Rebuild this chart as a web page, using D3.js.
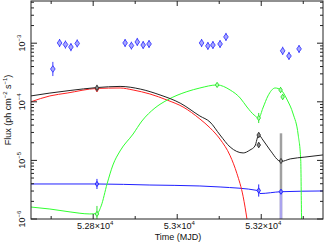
<!DOCTYPE html>
<html>
<head>
<meta charset="utf-8">
<script src="https://cdn.jsdelivr.net/npm/d3@7"></script>
<style>
  body { margin: 0; background: #fff; }
  svg { display: block; font-family: "Liberation Sans", Arial, sans-serif; }
</style>
</head>
<body>
<svg id="chart" width="325" height="242"></svg>
<script>
// ---- data ----
// measured points, upper band
const obsMjd  = [52704, 52720, 52734, 52747, 52762, 52876, 52891, 52905, 52919, 52933,
                 53058, 53073, 53085, 53102, 53116, 53251, 53266, 53290];
const obsFlux = [3.63e-4, 1.01e-3, 9.5e-4, 8.6e-4, 9.9e-4, 1.01e-3, 9.1e-4, 1.05e-3, 9.3e-4, 9.7e-4,
                 1.01e-3, 9.0e-4, 9.3e-4, 9.7e-4, 1.28e-3, 7.4e-4, 6.05e-4, 8.0e-4];
const obsLo   = [2.75e-4, 8.6e-4, 8.1e-4, 7.3e-4, 8.5e-4, 8.6e-4, 7.8e-4, 9.0e-4, 8.0e-4, 8.3e-4,
                 8.6e-4, 7.7e-4, 8.0e-4, 8.3e-4, 1.09e-3, 6.3e-4, 5.2e-4, 6.8e-4];
const obsHi   = [4.8e-4, 1.18e-3, 1.11e-3, 1.0e-3, 1.16e-3, 1.18e-3, 1.06e-3, 1.23e-3, 1.09e-3, 1.13e-3,
                 1.18e-3, 1.05e-3, 1.09e-3, 1.13e-3, 1.5e-3, 8.7e-4, 7.1e-4, 9.3e-4];

// model curves
const blackMjd  = [52652, 52697, 52745, 52809, 52864, 52912, 52959, 53007, 53054, 53078, 53102,
                   53126, 53157, 53173, 53185, 53194, 53204, 53221, 53247, 53269, 53304, 53347];
const blackFlux = [1.26e-4, 1.41e-4, 1.56e-4, 1.75e-4, 1.83e-4, 1.65e-4, 1.31e-4, 9.5e-5, 5.72e-5, 4.52e-5, 2.71e-5,
                   1.69e-5, 1.34e-5, 1.50e-5, 1.76e-5, 2.71e-5, 2.23e-5, 1.50e-5, 9.58e-6, 1.06e-5, 1.14e-5, 1.24e-5];

const redMjd  = [52652, 52697, 52738, 52809, 52864, 52895, 52935, 52976, 53014, 53054, 53078,
                 53102, 53126, 53142, 53157, 53166, 53172];
const redFlux = [1.0e-4, 1.26e-4, 1.41e-4, 1.69e-4, 1.72e-4, 1.59e-4, 1.36e-4, 1.07e-4, 8.15e-5, 5.09e-5, 3.6e-5,
                 2.3e-5, 1.2e-5, 6.0e-6, 2.4e-6, 1.0e-6, 5.0e-7];

const greenMjd  = [52652, 52697, 52745, 52792, 52809, 52819, 52833, 52847, 52864, 52895, 52916, 52947,
                   52976, 53023, 53054, 53095, 53126, 53150, 53166, 53183, 53194, 53204, 53216, 53233,
                   53247, 53262, 53276, 53288, 53294, 53296, 53298];
const greenFlux = [1.60e-6, 1.48e-6, 1.32e-6, 1.22e-6, 1.24e-6, 1.67e-6, 3.96e-6, 8.35e-6, 1.45e-5, 2.82e-5, 4.70e-5, 7.84e-5,
                   1.07e-4, 1.49e-4, 1.72e-4, 1.94e-4, 1.59e-4, 1.16e-4, 8.15e-5, 5.95e-5, 5.29e-5, 7.84e-5, 1.26e-4, 1.72e-4,
                   1.59e-4, 1.07e-4, 6.19e-5, 2.71e-5, 1.02e-5, 1.0e-6, 4.0e-7];

const blueMjd  = [52652, 52809, 52935, 53054, 53102, 53192, 53197, 53247, 53347];
const blueFlux = [3.96e-6, 3.96e-6, 3.80e-6, 3.66e-6, 3.52e-6, 3.06e-6, 2.72e-6, 2.92e-6, 3.01e-6];

// points on the model curves
const blackPtMjd  = [52809, 53194, 53194, 53247];
const blackPtFlux = [1.73e-4, 2.71e-5, 1.83e-5, 9.77e-6];
const blackPtLo   = [1.54e-4, 2.41e-5, 1.63e-5, 1e-7];
const blackPtHi   = [1.95e-4, 3.05e-5, 2.06e-5, 2.9e-5];

const redPtMjd  = [52809];
const redPtFlux = [1.65e-4];
const redPtLo   = [1.47e-4];
const redPtHi   = [1.86e-4];

const greenPtMjd  = [52809, 53095, 53194, 53246, 53251];
const greenPtFlux = [1.22e-6, 1.94e-4, 5.29e-5, 1.59e-4, 1.21e-4];
const greenPtLo   = [1e-7, 1.80e-4, 4.34e-5, 1.41e-4, 1.08e-4];
const greenPtHi   = [1.67e-6, 2.10e-4, 6.45e-5, 1.79e-4, 1.36e-4];

const bluePtMjd  = [52809, 53194, 53247];
const bluePtFlux = [3.96e-6, 3.06e-6, 2.92e-6];
const bluePtLo   = [3.25e-6, 2.41e-6, 1e-7];
const bluePtHi   = [4.83e-6, 3.89e-6, 3.16e-6];

const xMajorTicks  = [52800, 53000, 53200];
const xMajorLabels = ["5.28", "5.3", "5.32"];
const xMinorTicks  = [52700, 52900, 53100, 53300];
const yDecades     = [-6, -5, -4, -3];

// ---- layout ----
const svg = d3.select("#chart");
const plot = {left: 31, right: 323, top: 1, bottom: 219};

const x = d3.scaleLinear().domain([52652, 53347]).range([plot.left, plot.right]);
const y = d3.scaleLog().domain([1e-6, 5.25e-3]).range([plot.bottom, plot.top]);

svg.append("defs").append("clipPath").attr("id", "clip")
    .append("rect")
    .attr("x", plot.left).attr("y", plot.top)
    .attr("width", plot.right - plot.left).attr("height", plot.bottom - plot.top);

const g = svg.append("g").attr("clip-path", "url(#clip)");

// curves
function drawCurve(mjd, flux, color) {
    const pts = mjd.map((m, i) => [m, flux[i]]);
    g.append("path")
        .datum(pts)
        .attr("fill", "none")
        .attr("stroke", color)
        .attr("stroke-width", 1)
        .attr("d", d3.line().x(d => x(d[0])).y(d => y(d[1])).curve(d3.curveMonotoneX));
}

drawCurve(blueMjd, blueFlux, "#2020ff");
drawCurve(redMjd, redFlux, "#ff2020");
drawCurve(greenMjd, greenFlux, "#30ff30");
drawCurve(blackMjd, blackFlux, "#222");

// diamond markers with error bars
function drawPoints(mjd, flux, lo, hi, stroke, fill, barColor, barWidth, w, h) {
    mjd.forEach((m, i) => {
        g.append("line")
            .attr("x1", x(m)).attr("x2", x(m))
            .attr("y1", y(lo[i])).attr("y2", y(hi[i]))
            .attr("stroke", barColor)
            .attr("stroke-width", barWidth);
        const cx = x(m), cy = y(flux[i]);
        g.append("path")
            .attr("d", `M${cx},${cy - h}L${cx + w},${cy}L${cx},${cy + h}L${cx - w},${cy}Z`)
            .attr("fill", fill)
            .attr("stroke", stroke)
            .attr("stroke-width", 0.9);
    });
}

drawPoints(obsMjd, obsFlux, obsLo, obsHi, "#3a3aff", "#a8a8ff", "#3a3aff", 1, 2.3, 3.3);

// wide lower-limit bars at the last epoch
g.append("line")
    .attr("x1", x(blackPtMjd[3])).attr("x2", x(blackPtMjd[3]))
    .attr("y1", y(blackPtHi[3])).attr("y2", y(blackPtLo[3]))
    .attr("stroke", "#a0a0a0").attr("stroke-width", 2.5);
g.append("line")
    .attr("x1", x(bluePtMjd[2])).attr("x2", x(bluePtMjd[2]))
    .attr("y1", y(bluePtHi[2])).attr("y2", y(bluePtLo[2]))
    .attr("stroke", "#aaa3ee").attr("stroke-width", 2.5);

drawPoints(bluePtMjd, bluePtFlux, bluePtLo.map((v, i) => i === 2 ? bluePtFlux[i] : v),
    bluePtHi, "#2020ff", "#8080ff", "#2020ff", 1, 1.8, 2.6);
drawPoints(greenPtMjd, greenPtFlux, greenPtLo, greenPtHi, "#30e030", "#b0ffb0", "#30e030", 1, 1.8, 2.6);
drawPoints(redPtMjd, redPtFlux, redPtLo, redPtHi, "#d02020", "#ff8080", "#d02020", 1, 1.8, 2.6);
drawPoints(blackPtMjd.slice(0, 3), blackPtFlux.slice(0, 3), blackPtLo.slice(0, 3), blackPtHi.slice(0, 3),
    "#333", "#888", "#555", 1, 1.8, 2.6);
drawPoints(blackPtMjd.slice(3), blackPtFlux.slice(3), [blackPtFlux[3]], [blackPtFlux[3]],
    "#333", "#888", "#555", 1, 1.8, 2.6);

// ---- axes: ticks on all four sides, pointing inward ----
const axes = svg.append("g").attr("stroke", "#222").attr("stroke-width", 1);

function xTick(v, len) {
    axes.append("line").attr("x1", x(v)).attr("x2", x(v))
        .attr("y1", plot.bottom).attr("y2", plot.bottom - len);
    axes.append("line").attr("x1", x(v)).attr("x2", x(v))
        .attr("y1", plot.top).attr("y2", plot.top + len);
}
xMajorTicks.forEach(v => xTick(v, 5));
xMinorTicks.forEach(v => xTick(v, 3));

function yTick(v, len) {
    axes.append("line").attr("x1", plot.left).attr("x2", plot.left + len)
        .attr("y1", y(v)).attr("y2", y(v));
    axes.append("line").attr("x1", plot.right).attr("x2", plot.right - len)
        .attr("y1", y(v)).attr("y2", y(v));
}
yDecades.forEach(d => {
    yTick(Math.pow(10, d), 6);
    for (let k = 2; k <= 9; k++) {
        const v = k * Math.pow(10, d);
        if (v <= y.domain()[1]) yTick(v, 3);
    }
});

axes.append("rect")
    .attr("x", plot.left).attr("y", plot.top)
    .attr("width", plot.right - plot.left).attr("height", plot.bottom - plot.top)
    .attr("fill", "none");

// tick labels
const labels = svg.append("g").attr("fill", "#111").style("font-size", "9px");

xMajorTicks.forEach((v, i) => {
    const t = labels.append("text")
        .attr("x", x(v) + 2).attr("y", 229)
        .attr("text-anchor", "middle");
    t.append("tspan").text(xMajorLabels[i] + "\u00d710");
    t.append("tspan").attr("dy", -4).style("font-size", "6px").text("4");
});

yDecades.forEach(d => {
    const t = labels.append("text")
        .attr("transform", `translate(25,${y(Math.pow(10, d))}) rotate(-90)`)
        .attr("text-anchor", "middle");
    t.append("tspan").text("10");
    t.append("tspan").attr("dy", -4).style("font-size", "6px").text("\u2212" + (-d));
});

// axis titles
labels.append("text")
    .attr("x", 178).attr("y", 240)
    .attr("text-anchor", "middle")
    .text("Time (MJD)");

const yt = labels.append("text")
    .attr("transform", "translate(11,110) rotate(-90)")
    .attr("text-anchor", "middle");
yt.append("tspan").text("Flux (ph cm");
yt.append("tspan").attr("dy", -4).style("font-size", "6px").text("\u22122");
yt.append("tspan").attr("dy", 4).text(" s");
yt.append("tspan").attr("dy", -4).style("font-size", "6px").text("\u22121");
yt.append("tspan").attr("dy", 4).text(")");
</script>
</body>
</html>
